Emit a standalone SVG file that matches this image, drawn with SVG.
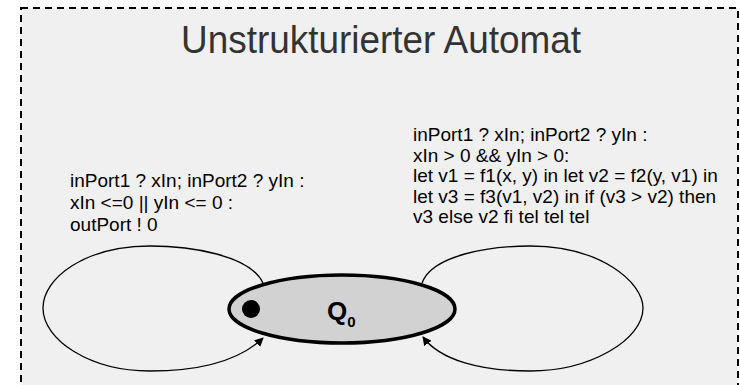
<svg xmlns="http://www.w3.org/2000/svg" width="740" height="385" viewBox="0 0 740 385">
  <style>
    .frame { fill: #f0f0f0; stroke: #000; stroke-width: 2; stroke-dasharray: 7 5; }
    .title { font-family: "Liberation Sans", Arial, sans-serif; font-size: 39px; fill: #333; }
    .label { font-family: "Liberation Sans", Arial, sans-serif; font-size: 19px; fill: #000; }
    .state { fill: #d2d2d2; stroke: #000; stroke-width: 3.5; }
    .loop { fill: none; stroke: #000; stroke-width: 1.3; marker-end: url(#arrow); }
    .qname { font-family: "Liberation Sans", Arial, sans-serif; font-weight: bold; fill: #000; }
  </style>
  <defs>
    <marker id="arrow" viewBox="0 0 10 10" refX="9" refY="5" markerWidth="9" markerHeight="9" markerUnits="userSpaceOnUse" orient="auto">
      <path d="M0,0 L10,5 L0,10 z" fill="#000"/>
    </marker>
  </defs>

  <rect width="740" height="385" fill="#fff"/>

  <!-- automaton frame -->
  <g id="frame">
    <rect class="frame" x="21" y="8" width="717" height="400"/>
    <text class="title" x="381" y="53" text-anchor="middle" textLength="400" lengthAdjust="spacingAndGlyphs">Unstrukturierter Automat</text>
  </g>

  <!-- self-loop transitions -->
  <g id="connectors">
    <path class="loop" d="M263,283 C250,255 190,246 150,246 C85,246 43,278 43,308 C43,340 90,371 150,371 C200,371 240,360 263,338"/>
    <path class="loop" d="M422,283 C432,255 490,246 530,246 C600,246 643,282 643,308 C643,340 590,371 530,371 C480,371 440,360 423,337"/>
  </g>

  <g id="label-left">
    <text class="label" x="70" y="187">inPort1 ? xIn; inPort2 ? yIn :</text>
    <text class="label" x="70" y="209">xIn &lt;=0 || yIn &lt;= 0 :</text>
    <text class="label" x="70" y="231">outPort ! 0</text>
  </g>

  <g id="label-right">
    <text class="label" x="413" y="141">inPort1 ? xIn; inPort2 ? yIn :</text>
    <text class="label" x="413" y="161.5">xIn &gt; 0 &amp;&amp; yIn &gt; 0:</text>
    <text class="label" x="413" y="182">let v1 = f1(x, y) in let v2 = f2(y, v1) in</text>
    <text class="label" x="413" y="202.5">let v3 = f3(v1, v2) in if (v3 &gt; v2) then</text>
    <text class="label" x="413" y="223">v3 else v2 fi tel tel tel</text>
  </g>

  <!-- state Q0 -->
  <g id="state-q0">
    <ellipse class="state" cx="342" cy="309" rx="113" ry="34"/>
    <circle cx="251" cy="309" r="9" fill="#000"/>
    <text class="qname" x="327" y="320" font-size="26">Q<tspan font-size="15" dy="7">0</tspan></text>
  </g>
</svg>
